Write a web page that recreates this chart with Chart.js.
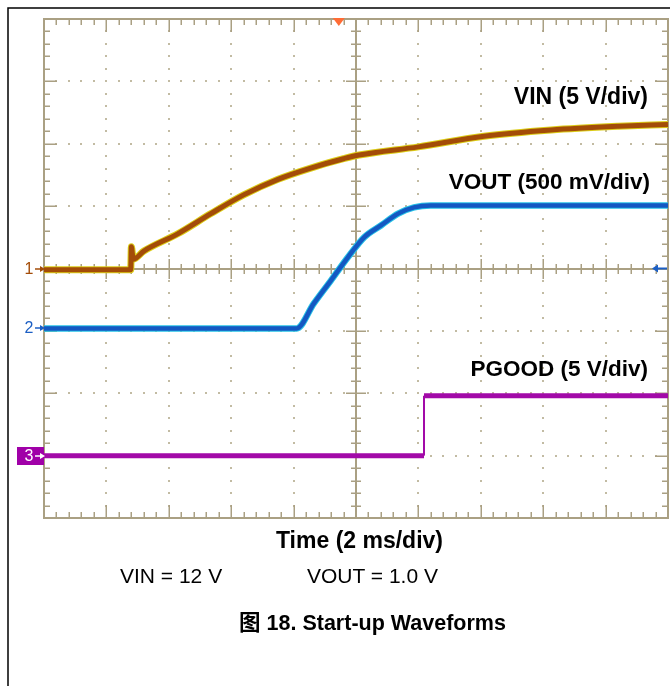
<!DOCTYPE html>
<html>
<head>
<meta charset="utf-8">
<script src="https://cdn.jsdelivr.net/npm/chart.js@4/dist/chart.umd.min.js"></script>
<style>
  html, body { margin: 0; padding: 0; background: #fff; }
  #wrap { position: relative; width: 670px; height: 686px; overflow: hidden; }
  #scope { position: absolute; left: 0; top: 0; }
  .lbl {
    position: absolute; white-space: nowrap; line-height: 1; color: #000;
    font-family: "Liberation Sans", Arial, "Noto Sans CJK SC", sans-serif;
  }
  .b { font-weight: bold; }
</style>
</head>
<body>
<div id="wrap">
  <canvas id="scope" width="670" height="686"></canvas>
  <div class="lbl b" id="lblVin" style="right:22px; top:85px; font-size:23px;">VIN (5 V/div)</div>
  <div class="lbl b" id="lblVout" style="right:20px; top:171px; font-size:22.5px;">VOUT (500 mV/div)</div>
  <div class="lbl b" id="lblPgood" style="right:22px; top:358px; font-size:22.5px;">PGOOD (5 V/div)</div>
  <div class="lbl b" style="left:0; width:719px; text-align:center; top:529px; font-size:23px;">Time (2 ms/div)</div>
  <div class="lbl" style="left:120px; top:565px; font-size:21px;">VIN = 12 V</div>
  <div class="lbl" style="left:307px; top:565px; font-size:21px;">VOUT = 1.0 V</div>
  <div class="lbl b" style="left:0; width:745px; text-align:center; top:613px; font-size:21.5px;">图 18. Start-up Waveforms</div>
</div>
<script>
// time axis in ms (2 ms/div), vertical axis in divisions
const timeTicks = [0, 2, 4, 6, 8, 10, 12, 14, 16, 18, 20];
const divTicks = [-4, -3, -2, -1, 0, 1, 2, 3, 4];

const vinTime  = [0, 2.78, 2.80, 2.86, 3.2, 4.3, 5.35, 6.4, 7.5, 8.55, 9.6, 10.1, 12.0, 14.1, 16.25, 18.4, 20];
const vinLevel = [-0.02, -0.02, 0.35, 0.15, 0.28, 0.56, 0.88, 1.18, 1.43, 1.61, 1.76, 1.82, 1.95, 2.12, 2.22, 2.28, 2.31];

const voutTime  = [0, 8.1, 8.65, 9.2, 9.74, 10.26, 10.8, 11.35, 11.86, 12.4, 20];
const voutLevel = [-0.96, -0.96, -0.56, -0.19, 0.18, 0.50, 0.69, 0.88, 0.98, 1.01, 1.01];

const pgoodTime  = [0, 12.18, 12.18, 20];
const pgoodLevel = [-3.0, -3.0, -2.04, -2.04];

// channel ground markers and trigger position
const channelNames = ['1', '2', '3'];
const channelLevels = [0, -0.96, -3.0];
const triggerTime = 9.45;

const toPoints = (xs, ys) => xs.map((t, i) => ({ x: t, y: ys[i] }));

const gridColor = '#aaa083';
const dotColor = '#c2bba3';

const scopeGrid = {
    id: 'scopeGrid',
    beforeDatasetsDraw(chart) {
        const { ctx, chartArea: a, scales: { x, y } } = chart;
        ctx.save();

        // dotted major lines
        ctx.fillStyle = dotColor;
        timeTicks.slice(1, -1).forEach(t => {
            if (t === 10) return;
            const px = Math.round(x.getPixelForValue(t));
            for (let i = 1; i < 40; i++) {
                const py = y.getPixelForValue(-4 + i * 0.2);
                ctx.fillRect(px - 1, Math.round(py) - 1, 2, 2);
            }
        });
        divTicks.slice(1, -1).forEach(d => {
            if (d === 0) return;
            const py = Math.round(y.getPixelForValue(d));
            for (let i = 1; i < 50; i++) {
                const px = x.getPixelForValue(i * 0.4);
                ctx.fillRect(Math.round(px) - 1, py - 1, 2, 2);
            }
        });

        ctx.strokeStyle = gridColor;
        ctx.lineWidth = 2;
        ctx.strokeRect(a.left, a.top, a.width, a.height);

        const cx = Math.round(x.getPixelForValue(10));
        const cy = Math.round(y.getPixelForValue(0));
        ctx.beginPath();
        ctx.moveTo(cx, a.top); ctx.lineTo(cx, a.bottom);
        ctx.moveTo(a.left, cy); ctx.lineTo(a.right, cy);
        ctx.stroke();

        ctx.lineWidth = 1.5;
        ctx.beginPath();
        for (let i = 1; i < 50; i++) {
            const px = Math.round(x.getPixelForValue(i * 0.4)) + 0.25;
            const major = i % 5 === 0;
            const c = major ? 10 : 5;
            const e = major ? 13 : 6;
            ctx.moveTo(px, cy - c); ctx.lineTo(px, cy + c);
            ctx.moveTo(px, a.top); ctx.lineTo(px, a.top + e);
            ctx.moveTo(px, a.bottom); ctx.lineTo(px, a.bottom - e);
        }
        for (let i = 1; i < 40; i++) {
            const py = Math.round(y.getPixelForValue(-4 + i * 0.2)) + 0.25;
            const major = i % 5 === 0;
            const c = major ? 10 : 5;
            const e = major ? 13 : 6;
            ctx.moveTo(cx - c, py); ctx.lineTo(cx + c, py);
            ctx.moveTo(a.left, py); ctx.lineTo(a.left + e, py);
            ctx.moveTo(a.right, py); ctx.lineTo(a.right - e, py);
        }
        ctx.stroke();
        ctx.restore();
    },
    afterDraw(chart) {
        const { ctx, chartArea: a, scales: { x, y } } = chart;
        ctx.save();

        // page frame
        ctx.strokeStyle = '#000';
        ctx.lineWidth = 1.5;
        ctx.beginPath();
        ctx.moveTo(8, 700); ctx.lineTo(8, 8); ctx.lineTo(680, 8);
        ctx.stroke();

        // trigger marker
        const tx = x.getPixelForValue(triggerTime);
        ctx.fillStyle = '#ff6c35';
        ctx.beginPath();
        ctx.moveTo(tx - 6, a.top - 1); ctx.lineTo(tx + 6, a.top - 1); ctx.lineTo(tx, a.top + 7);
        ctx.closePath();
        ctx.fill();

        // right-hand offset arrow
        const cy = y.getPixelForValue(0);
        ctx.strokeStyle = '#1c5fc4';
        ctx.fillStyle = '#1c5fc4';
        ctx.lineWidth = 2;
        ctx.beginPath();
        ctx.moveTo(a.right - 12, cy); ctx.lineTo(a.right - 1, cy);
        ctx.stroke();
        ctx.beginPath();
        ctx.moveTo(a.right - 16, cy); ctx.lineTo(a.right - 10, cy - 4); ctx.lineTo(a.right - 10, cy + 4);
        ctx.closePath();
        ctx.fill();

        // channel ground markers
        const colors = ['#a34c08', '#1c5fc4', '#a000a8'];
        ctx.font = '16px "Liberation Sans", Arial, sans-serif';
        ctx.textBaseline = 'middle';
        ctx.textAlign = 'center';
        channelNames.forEach((name, i) => {
            const py = Math.round(y.getPixelForValue(channelLevels[i]));
            let fg = colors[i];
            if (i === 2) {
                ctx.fillStyle = colors[i];
                ctx.fillRect(17, py - 9, a.left - 17, 18);
                fg = '#fff';
            }
            ctx.fillStyle = fg;
            ctx.strokeStyle = fg;
            ctx.fillText(name, 29, py + 1);
            ctx.lineWidth = 1.5;
            ctx.beginPath();
            ctx.moveTo(35, py); ctx.lineTo(a.left - 1, py);
            ctx.stroke();
            ctx.beginPath();
            ctx.moveTo(a.left + 1, py); ctx.lineTo(a.left - 4, py - 3); ctx.lineTo(a.left - 4, py + 3);
            ctx.closePath();
            ctx.fill();
        });
        ctx.restore();
    }
};

const trace = (data, color, width, order, extra) => Object.assign({
    data,
    borderColor: color,
    borderWidth: width,
    pointRadius: 0,
    fill: false,
    order,
}, extra || {});

const smooth = { cubicInterpolationMode: 'monotone' };
const stepWidth = (wide, thin) => ({
    segment: { borderWidth: ctx => (ctx.p0.parsed.x === ctx.p1.parsed.x ? thin : wide) },
});

document.addEventListener('DOMContentLoaded', function () {
    const canvas = document.getElementById('scope');
    new Chart(canvas.getContext('2d'), {
        type: 'line',
        data: {
            datasets: [
                trace(toPoints(vinTime, vinLevel), '#a34c08', 5, 1, smooth),
                trace(toPoints(vinTime, vinLevel), '#dccd18', 7, 2, smooth),
                trace(toPoints(voutTime, voutLevel), '#1458c2', 4.5, 1, smooth),
                trace(toPoints(voutTime, voutLevel), '#27c2e6', 6.5, 2, smooth),
                trace(toPoints(pgoodTime, pgoodLevel), '#a20aa8', 5, 1, Object.assign({ tension: 0 }, stepWidth(5, 2))),
            ],
        },
        options: {
            responsive: false,
            animation: false,
            layout: { padding: { left: 44, top: 19, right: 2, bottom: 168 } },
            plugins: { legend: { display: false }, tooltip: { enabled: false } },
            scales: {
                x: { type: 'linear', min: 0, max: 20, display: false },
                y: { type: 'linear', min: -4, max: 4, display: false },
            },
        },
        plugins: [scopeGrid],
    });
});
</script>
</body>
</html>
